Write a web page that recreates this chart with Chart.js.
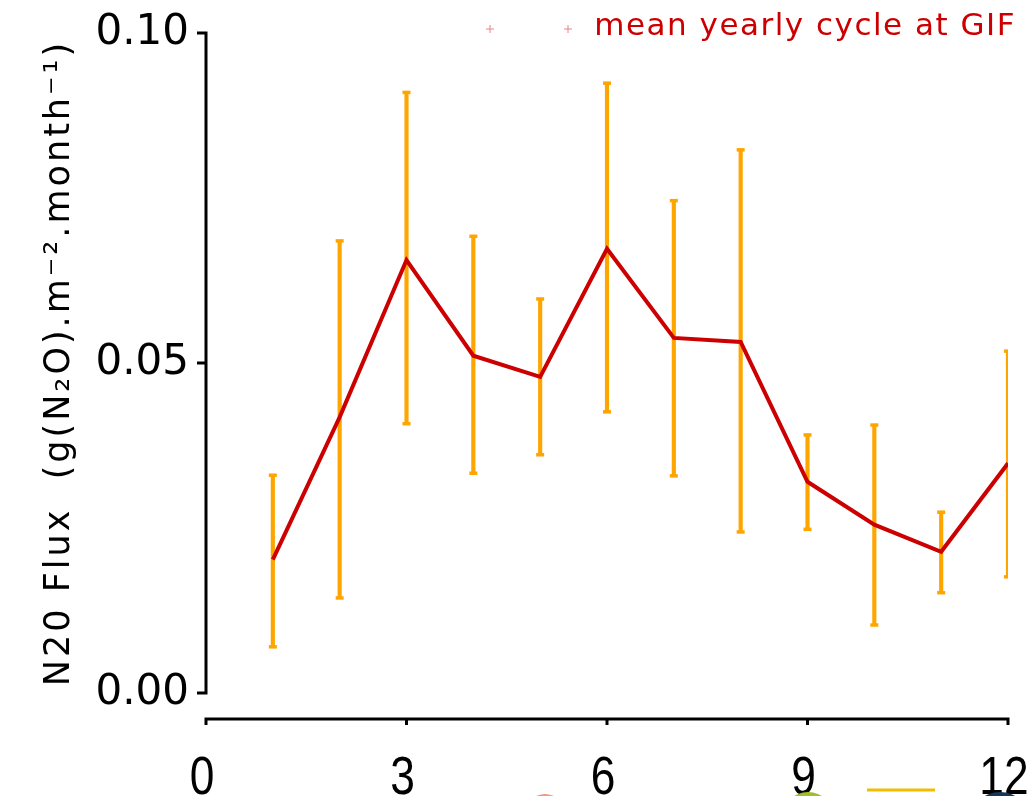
<!DOCTYPE html>
<html>
<head>
<meta charset="utf-8">
<script src="https://cdn.jsdelivr.net/npm/chart.js@4/dist/chart.umd.min.js"></script>
<style>
  html, body { margin: 0; padding: 0; background: #fff; overflow: hidden; }
  #wrap { width: 1030px; height: 796px; }
</style>
</head>
<body>
<div id="wrap"><canvas id="fluxChart" width="1030" height="796"></canvas></div>
<script>
// mean yearly cycle of N2O flux at GIF, per month
const months = [1, 2, 3, 4, 5, 6, 7, 8, 9, 10, 11, 12];
const meanFlux = [0.0202, 0.0418, 0.0656, 0.0511, 0.0479, 0.0673, 0.0538, 0.0532, 0.0320, 0.0255, 0.0214, 0.0348];
const upperFlux = [0.0330, 0.0685, 0.0910, 0.0692, 0.0597, 0.0924, 0.0746, 0.0823, 0.0391, 0.0406, 0.0274, 0.0518];
const lowerFlux = [0.0070, 0.0144, 0.0408, 0.0333, 0.0361, 0.0426, 0.0329, 0.0244, 0.0248, 0.0103, 0.0152, 0.0176];
const xTicks = [0, 3, 6, 9, 12];
const yTicks = [0.00, 0.05, 0.10];
const seriesLabel = 'mean yearly cycle at GIF';
const yTitle = 'N20 Flux  (g(N\u2082O).m\u207B\u00B2.month\u207B\u00B9)';

const red = 'rgb(204, 0, 0)';
const orange = 'rgb(255, 165, 0)';

// IDL style axes: y axis with bracket ticks, x axis set below the plot
const idlAxes = {
  id: 'idlAxes',
  afterDraw(chart) {
    const ctx = chart.ctx;
    const x = chart.scales.x, y = chart.scales.y;
    const left = x.getPixelForValue(0), right = x.getPixelForValue(12);
    const top = y.getPixelForValue(0.10), bottom = y.getPixelForValue(0);
    ctx.save();
    ctx.strokeStyle = '#000';
    ctx.lineWidth = 3;
    ctx.lineCap = 'butt';
    ctx.beginPath();
    ctx.moveTo(left, top);
    ctx.lineTo(left, bottom);
    yTicks.forEach(v => {
      const py = y.getPixelForValue(v);
      ctx.moveTo(left + 1.5, py);
      ctx.lineTo(left - 9, py);
    });
    ctx.stroke();

    const ay = bottom + 26;
    ctx.beginPath();
    ctx.moveTo(left, ay);
    ctx.lineTo(right, ay);
    xTicks.forEach(v => {
      const px = x.getPixelForValue(v);
      ctx.moveTo(px, ay - 1.5);
      ctx.lineTo(px, ay + 6);
    });
    ctx.stroke();

    // x tick labels, tall and narrow
    ctx.fillStyle = '#000';
    ctx.font = '54px "Liberation Sans"';
    ctx.textAlign = 'center';
    ctx.textBaseline = 'alphabetic';
    xTicks.forEach(v => {
      ctx.save();
      ctx.translate(x.getPixelForValue(v) - 4, ay + 75);
      ctx.scale(0.82, 1);
      ctx.fillText(String(v), 0, 0);
      ctx.restore();
    });

    // y axis title
    ctx.save();
    ctx.translate(60, (top + bottom) / 2);
    ctx.rotate(-Math.PI / 2);
    ctx.font = '35px "DejaVu Sans"';
    ctx.letterSpacing = '3px';
    ctx.fillStyle = '#000';
    ctx.textAlign = 'center';
    ctx.textBaseline = 'middle';
    ctx.fillText(yTitle, 0, 0);
    ctx.restore();

    // legend, top right
    ctx.font = '31px "DejaVu Sans"';
    ctx.letterSpacing = '1.5px';
    ctx.fillStyle = red;
    ctx.textAlign = 'right';
    ctx.textBaseline = 'middle';
    ctx.fillText(seriesLabel, 1016, 27);
    ctx.letterSpacing = '0px';
    ctx.strokeStyle = 'rgb(235, 130, 130)';
    ctx.lineWidth = 1;
    [490, 568].forEach(px => {
      ctx.beginPath();
      ctx.moveTo(px - 4, 29); ctx.lineTo(px + 4, 29);
      ctx.moveTo(px, 25); ctx.lineTo(px, 33);
      ctx.stroke();
    });

    // cut-off pieces of the figure below
    ctx.fillStyle = 'rgb(240, 150, 130)';
    ctx.beginPath(); ctx.arc(545, 814, 20, 0, Math.PI * 2); ctx.fill();
    ctx.fillStyle = 'rgb(160, 190, 40)';
    ctx.beginPath(); ctx.arc(808, 818, 26, 0, Math.PI * 2); ctx.fill();
    ctx.fillStyle = 'rgb(230, 235, 200)';
    ctx.beginPath(); ctx.arc(808, 820, 20, 0, Math.PI * 2); ctx.fill();
    ctx.fillStyle = 'rgb(20, 55, 85)';
    ctx.beginPath(); ctx.arc(1000, 822, 30, 0, Math.PI * 2); ctx.fill();
    ctx.strokeStyle = 'rgb(240, 190, 0)';
    ctx.lineWidth = 3;
    ctx.beginPath(); ctx.moveTo(867, 790); ctx.lineTo(935, 790); ctx.stroke();
    ctx.restore();
  }
};

new Chart(document.getElementById('fluxChart'), {
  data: {
    datasets: [
      {
        type: 'bar',
        label: 'error',
        data: months.map((m, i) => ({ x: m, y: [lowerFlux[i], upperFlux[i]] })),
        backgroundColor: orange,
        borderWidth: 0,
        barThickness: 3.5,
        order: 3
      },
      {
        type: 'scatter',
        label: 'caps',
        data: months.map((m, i) => ({ x: m, y: upperFlux[i] }))
          .concat(months.map((m, i) => ({ x: m, y: lowerFlux[i] }))),
        pointStyle: 'line',
        pointRadius: 4,
        borderColor: orange,
        borderWidth: 3.5,
        order: 2
      },
      {
        type: 'line',
        label: seriesLabel,
        data: months.map((m, i) => ({ x: m, y: meanFlux[i] })),
        borderColor: red,
        borderWidth: 4,
        pointRadius: 0,
        tension: 0,
        order: 1
      }
    ]
  },
  options: {
    responsive: false,
    animation: false,
    layout: { padding: { left: 0, right: 22, top: 33, bottom: 0 } },
    plugins: {
      legend: { display: false },
      tooltip: { enabled: false }
    },
    scales: {
      x: {
        type: 'linear',
        min: 0,
        max: 12,
        offset: false,
        grid: { display: false, drawTicks: false },
        border: { display: false },
        afterBuildTicks: s => { s.ticks = xTicks.map(v => ({ value: v })); },
        afterFit: s => { s.height = 103; s.paddingLeft = 0; s.paddingRight = 0; },
        ticks: { display: false }
      },
      y: {
        min: 0,
        max: 0.10,
        grid: { display: false, drawTicks: false },
        border: { display: false },
        afterBuildTicks: s => { s.ticks = yTicks.map(v => ({ value: v })); },
        afterFit: s => { s.width = 206; s.paddingTop = 0; s.paddingBottom = 0; },
        ticks: {
          padding: 17,
          color: '#000',
          font: { family: 'DejaVu Sans', size: 42 },
          callback: v => Number(v).toFixed(2)
        }
      }
    }
  },
  plugins: [idlAxes]
});
</script>
</body>
</html>
